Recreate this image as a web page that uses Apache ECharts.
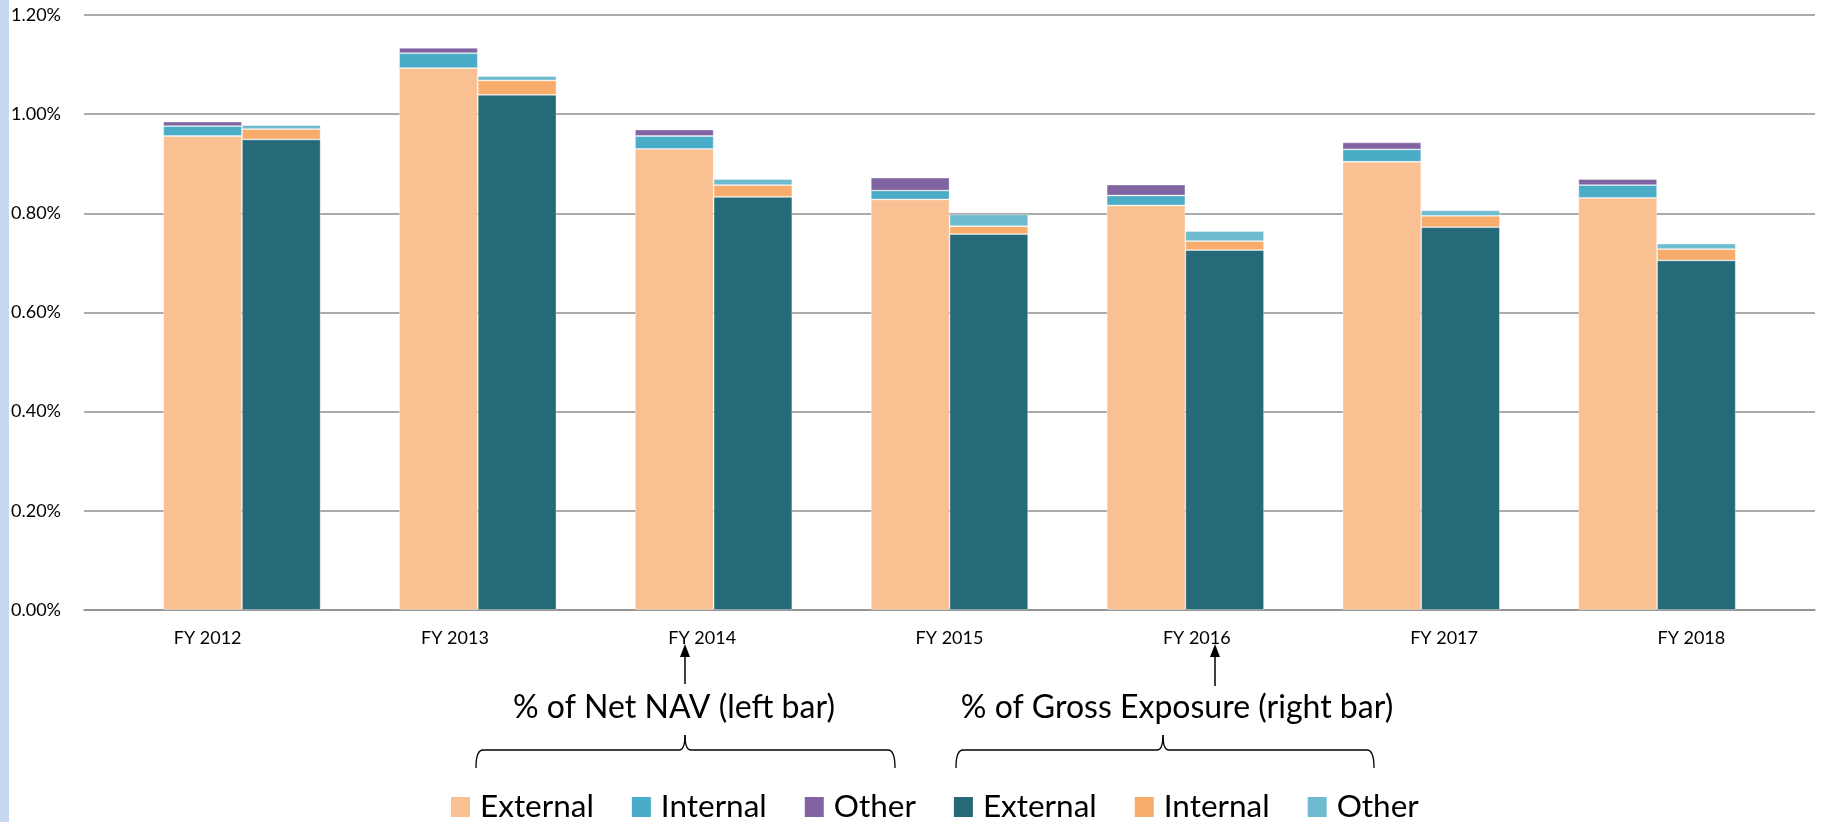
<!DOCTYPE html>
<html>
<head>
<meta charset="utf-8">
<script src="https://cdn.jsdelivr.net/npm/echarts@6/dist/echarts.min.js"></script>
<style>
  html, body { margin: 0; padding: 0; background: #ffffff; }
  #chart { width: 1822px; height: 822px; }
</style>
</head>
<body>
<div id="chart"></div>
<script>
// Fiscal years on the category axis
const years = ['FY 2012', 'FY 2013', 'FY 2014', 'FY 2015', 'FY 2016', 'FY 2017', 'FY 2018'];

// Value-axis ticks (percent)
const yTicks = [0, 0.2, 0.4, 0.6, 0.8, 1.0, 1.2];

// Costs as % of Net NAV (left bar of each pair)
const navExternal = [0.956, 1.093, 0.930, 0.828, 0.816, 0.904, 0.831];
const navInternal = [0.020, 0.030, 0.026, 0.018, 0.020, 0.025, 0.026];
const navOther    = [0.009, 0.011, 0.013, 0.026, 0.022, 0.014, 0.012];

// Costs as % of Gross Exposure (right bar of each pair)
const grossExternal = [0.949, 1.039, 0.833, 0.758, 0.726, 0.772, 0.705];
const grossInternal = [0.021, 0.029, 0.024, 0.016, 0.018, 0.023, 0.023];
const grossOther    = [0.008, 0.009, 0.012, 0.024, 0.020, 0.011, 0.011];

// Legend entries: "group|label", only the label is shown
const seriesDefs = [
  { name: 'nav|External',   stack: 'nav',   data: navExternal,   color: '#f9c192' },
  { name: 'nav|Internal',   stack: 'nav',   data: navInternal,   color: '#4aacc6' },
  { name: 'nav|Other',      stack: 'nav',   data: navOther,      color: '#8064a2' },
  { name: 'gross|External', stack: 'gross', data: grossExternal, color: '#266a7a' },
  { name: 'gross|Internal', stack: 'gross', data: grossInternal, color: '#f8ac6b' },
  { name: 'gross|Other',    stack: 'gross', data: grossOther,    color: '#6fbcd0' }
];

const FONT = 'Lato, "Open Sans", sans-serif';
const GRID_TOP = 15, GRID_BOTTOM = 212;
const yMin = yTicks[0], yMax = yTicks[yTicks.length - 1], yStep = yTicks[1] - yTicks[0];

const INK = { stroke: '#000', lineWidth: 1.3, fill: null };

// Curly brace: ends drop down, small cusp in the middle
function brace(x1, x2, xm, y, drop, rise) {
  return {
    type: 'group', silent: true,
    children: [
      { type: 'bezierCurve', shape: { x1: x1, y1: y + drop, cpx1: x1, cpy1: y, x2: x1 + 7, y2: y }, style: INK },
      { type: 'line', shape: { x1: x1 + 7, y1: y, x2: xm - 6, y2: y }, style: INK },
      { type: 'bezierCurve', shape: { x1: xm - 6, y1: y, cpx1: xm, cpy1: y, x2: xm, y2: y - rise }, style: INK },
      { type: 'bezierCurve', shape: { x1: xm, y1: y - rise, cpx1: xm, cpy1: y, x2: xm + 6, y2: y }, style: INK },
      { type: 'line', shape: { x1: xm + 6, y1: y, x2: x2 - 7, y2: y }, style: INK },
      { type: 'bezierCurve', shape: { x1: x2 - 7, y1: y, cpx1: x2, cpy1: y, x2: x2, y2: y + drop }, style: INK }
    ]
  };
}

function arrow(x, yTip, yEnd) {
  return {
    type: 'group', silent: true,
    children: [
      { type: 'line', shape: { x1: x, y1: yEnd, x2: x, y2: yTip + 10 },
        style: { stroke: '#000', lineWidth: 1.5 } },
      { type: 'polygon', shape: { points: [[x, yTip], [x - 5, yTip + 13], [x + 5, yTip + 13]] },
        style: { fill: '#000' } }
    ]
  };
}

const chart = echarts.init(document.getElementById('chart'), null, { renderer: 'canvas' });

chart.setOption({
  animation: false,
  backgroundColor: '#ffffff',
  textStyle: { fontFamily: FONT },
  grid: [
    // frame for gridlines and year labels
    { left: 84, right: 7, top: GRID_TOP, bottom: GRID_BOTTOM },
    // frame for the paired bars
    { left: 124, right: 47, top: GRID_TOP, bottom: GRID_BOTTOM }
  ],
  xAxis: [
    {
      type: 'category', gridIndex: 0, data: years,
      axisLine: { show: true, lineStyle: { color: '#8e8e8e', width: 1.5 } },
      axisTick: { show: false },
      axisLabel: { color: '#000', fontSize: 18, fontFamily: FONT, margin: 19 }
    },
    {
      type: 'category', gridIndex: 1, data: years, show: false
    }
  ],
  yAxis: [
    {
      type: 'value', gridIndex: 0, min: yMin, max: yMax, interval: yStep,
      axisLine: { show: false }, axisTick: { show: false },
      splitLine: { lineStyle: { color: '#8e8e8e', width: 1.5 } },
      axisLabel: {
        color: '#000', fontSize: 18, fontFamily: FONT, align: 'left', margin: 73,
        formatter: v => v.toFixed(2) + '%'
      }
    },
    {
      type: 'value', gridIndex: 1, min: yMin, max: yMax, interval: yStep, show: false,
      splitLine: { show: false }
    }
  ],
  legend: {
    left: 446, top: 786,
    itemWidth: 19, itemHeight: 20, itemGap: 38,
    icon: 'rect',
    itemStyle: { borderWidth: 0 },
    textStyle: { fontSize: 31.5, fontFamily: FONT, color: '#000', padding: [0, 0, 0, 5] },
    formatter: name => name.split('|')[1],
    data: seriesDefs.map(s => s.name)
  },
  series: seriesDefs.map(s => ({
    type: 'bar', name: s.name, stack: s.stack, data: s.data,
    xAxisIndex: 1, yAxisIndex: 1,
    barGap: '0%', barCategoryGap: '33.3%',
    itemStyle: { color: s.color, borderColor: 'rgba(255,255,255,0.45)', borderWidth: 0.8 },
    emphasis: { disabled: true }
  })),
  graphic: [
    { type: 'rect', left: 0, top: 0, shape: { width: 9, height: 822 }, style: { fill: '#c6d9f1' }, silent: true },
    arrow(685, 644, 684),
    arrow(1215, 644, 686),
    { type: 'text', x: 674, y: 708, silent: true,
      style: { text: '% of Net NAV (left bar)', font: '32px ' + FONT, fill: '#000', textAlign: 'center', textVerticalAlign: 'middle' } },
    { type: 'text', x: 1177, y: 708, silent: true,
      style: { text: '% of Gross Exposure (right bar)', font: '32px ' + FONT, fill: '#000', textAlign: 'center', textVerticalAlign: 'middle' } },
    brace(476, 895, 685, 750, 18, 15),
    brace(956, 1374, 1163, 750, 18, 15)
  ]
});
</script>
</body>
</html>
